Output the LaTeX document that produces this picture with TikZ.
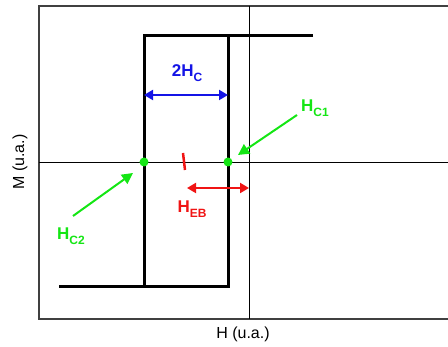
\documentclass[tikz,border=0pt]{standalone}
\usepackage{fontspec}
\setmainfont{Liberation Sans}
\usetikzlibrary{arrows.meta}
\definecolor{lgreen}{RGB}{20,230,20}
\definecolor{lblue}{RGB}{20,20,230}
\definecolor{lred}{RGB}{240,20,20}
\newcommand{\sbs}[1]{\raisebox{-0.3em}{\fontsize{12}{12}\selectfont #1}}
\tikzset{
  loop/.style={line width=3pt},
  axis/.style={line width=0.8pt},
  lbl/.style={font=\fontsize{17}{19}\selectfont\bfseries, inner sep=0pt},
  axlbl/.style={font=\fontsize{16}{18}\selectfont, inner sep=0pt},
  arr/.style={line width=2pt, {Triangle[length=9pt,width=10pt]}-{Triangle[length=9pt,width=10pt]}},
  garr/.style={line width=2pt, lgreen, -{Triangle[length=11pt,width=11pt]}},
  dot/.style={circle, fill=lgreen, minimum size=9pt, inner sep=0pt}
}
\begin{document}
\begin{tikzpicture}[x=1pt,y=-1pt]
\useasboundingbox (0,0) rectangle (448,347);
% frame
\draw[line width=1.2pt, black!75] (448,6) -- (39,6) -- (39,319) -- (448,319);
% axes
\draw[axis] (249,6) -- (249,319);
\draw[axis] (39,162) -- (448,162);
% loop
\draw[loop] (313,36) -- (144,36) -- (144,287);
\draw[loop] (59,287) -- (228,287) -- (228,36);
% nodes
\node[dot] (c2) at (144,162) {};
\node[dot] (c1) at (228,162) {};
% blue arrow
\coordinate (bl) at (144,95);
\coordinate (br) at (228,95);
\draw[arr, lblue] (bl) -- (br);
\node[lbl, lblue] (hc) at (187,73) {2H\sbs{C}};
% green arrows
\node[lbl, lgreen, anchor=west] (hc1) at (301,108) {H\sbs{C1}};
\coordinate (a1s) at (297,115);
\coordinate (a1e) at (238,155);
\draw[garr] (a1s) -- (a1e);
\node[lbl, lgreen] (hc2) at (71,236) {H\sbs{C2}};
\coordinate (a2s) at (73,216);
\coordinate (a2e) at (133,173);
\draw[garr] (a2s) -- (a2e);
% red tick
\coordinate (t1) at (183,153);
\coordinate (t2) at (185,170);
\draw[lred, line width=2.5pt] (t1) -- (t2);
% red arrow
\coordinate (rl) at (187,188);
\coordinate (rr) at (249,188);
\draw[arr, lred] (rl) -- (rr);
\node[lbl, lred] (heb) at (192,209) {H\sbs{EB}};
% axis labels
\node[axlbl] (hx) at (243,334) {H (u.a.)};
\node[axlbl, rotate=90] (my) at (20,162) {M (u.a.)};
\end{tikzpicture}
\end{document}
